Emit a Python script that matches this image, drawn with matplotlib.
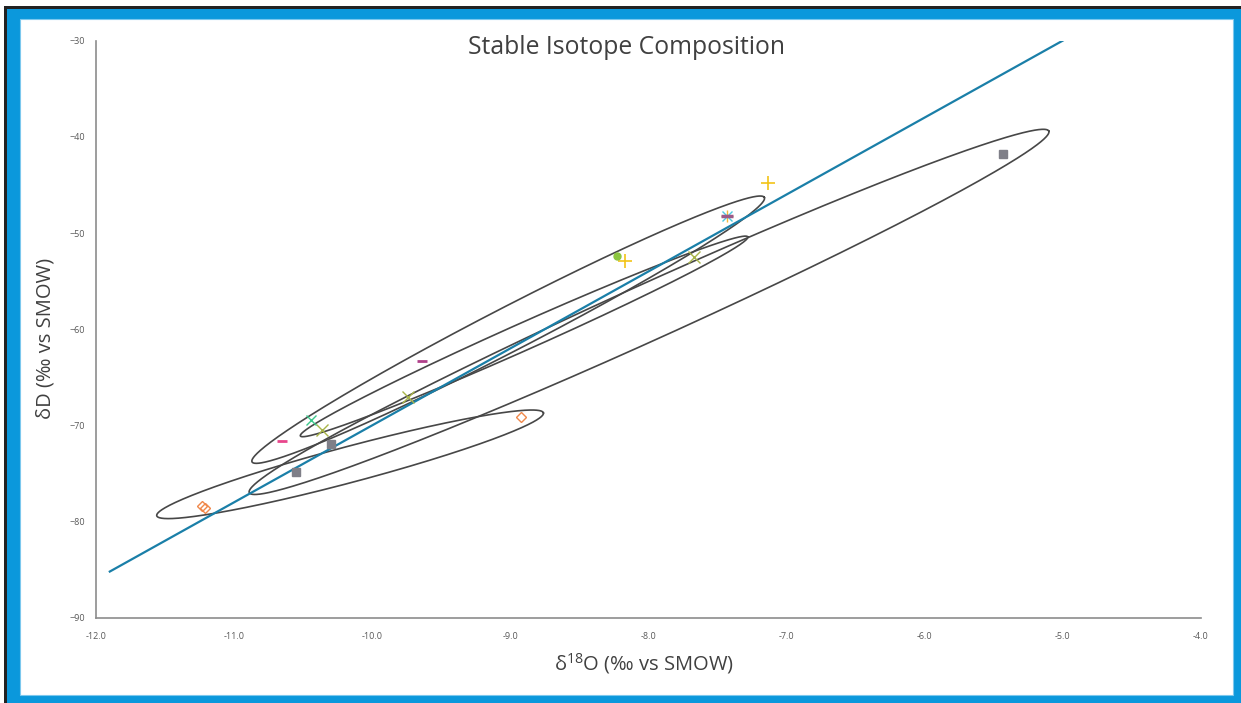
import numpy as np
import matplotlib
matplotlib.use('Agg')
import matplotlib.pyplot as plt
from matplotlib.patches import Rectangle

plt.rcParams['font.family'] = ['Open Sans', 'DejaVu Sans']
plt.rcParams['mathtext.fontset'] = 'custom'
plt.rcParams['mathtext.rm'] = 'Open Sans'

# Valores (δ18O, δD)
quadrado_x = [-5.43, -10.30, -10.55]
quadrado_y = [-41.8, -71.9, -74.9]

losango_x = [-11.23, -11.21, -8.92]
losango_y = [-78.4, -78.6, -69.1]

mais_x = [-7.13, -8.17]
mais_y = [-44.8, -52.9]

ponto_x = [-8.23]
ponto_y = [-52.4]

xis_oliva_x = [-7.67, -10.36, -9.74]
xis_oliva_y = [-52.5, -70.5, -67.1]

xis_verde_x = [-10.44]
xis_verde_y = [-69.4]

traco_x = [-10.65, -9.64]
traco_y = [-71.6, -63.3]
traco_cores = ['#e8468c', '#b0408a']

estrela_x = [-7.43]
estrela_y = [-48.2]

# Reta meteórica global: δD = 8 δ18O + 10
reta_x = [-11.9, -5.0]
reta_inclinacao = 8
reta_intercepto = 10

# Elipses: extremidades (δ18O, δD) e meia-largura em unidades de δ18O
elipse_p1 = [(-10.89, -77.0), (-11.56, -79.4), (-10.87, -73.8), (-10.52, -71.1)]
elipse_p2 = [(-5.10, -39.4), (-8.76, -68.7), (-7.16, -46.3), (-7.28, -50.4)]
elipse_b = [0.203, 0.130, 0.159, 0.098]

xmin, xmax = -12, -4
ymin, ymax = -90, -30

W, H = 1241, 703
fig = plt.figure(figsize=(W / 100, H / 100), dpi=100)

# Moldura: sombra preta, borda azul, fundo branco
fig.patches.append(Rectangle((4 / W, 0), 1, 1 - 6 / H, transform=fig.transFigure,
                             facecolor='#222222', edgecolor='none', zorder=-3))
fig.patches.append(Rectangle((7 / W, 0), 1, 1 - 9 / H, transform=fig.transFigure,
                             facecolor='#0b98dc', edgecolor='none', zorder=-2))
fig.patches.append(Rectangle((20 / W, 8 / H), (1233 - 20) / W, (695 - 19) / H,
                             transform=fig.transFigure, facecolor='white',
                             edgecolor='#7cc8ee', linewidth=0.8, zorder=-1))

ax_l, ax_r, ax_t, ax_b = 96, 1200.7, 40.7, 617.7
ax = fig.add_axes([ax_l / W, 1 - ax_b / H, (ax_r - ax_l) / W, (ax_b - ax_t) / H])
ax.patch.set_alpha(0)

ax.set_xlim(xmin, xmax)
ax.set_ylim(ymin, ymax)
ax.set_xticks(np.arange(xmin, xmax + 1, 1))
ax.set_xticklabels([f'{v:.1f}' for v in np.arange(xmin, xmax + 1, 1)])
ax.set_yticks(np.arange(ymin, ymax + 1, 10))
ax.tick_params(length=0, labelsize=6.5, labelcolor='#595959')
ax.tick_params(axis='x', pad=10)
ax.tick_params(axis='y', pad=8)
for lado in ['top', 'right']:
    ax.spines[lado].set_visible(False)
for lado in ['left', 'bottom']:
    ax.spines[lado].set_color('#8c8c8c')
    ax.spines[lado].set_linewidth(1.2)

# escala para elipses com pixels iguais nos dois eixos
ppx = (ax_r - ax_l) / (xmax - xmin)
ppy = (ax_b - ax_t) / (ymax - ymin)
k = ppy / ppx

t = np.linspace(0, 2 * np.pi, 600)
for p1, p2, b in zip(elipse_p1, elipse_p2, elipse_b):
    x1, y1 = p1[0], p1[1] * k
    x2, y2 = p2[0], p2[1] * k
    cx, cy = (x1 + x2) / 2, (y1 + y2) / 2
    a = np.hypot(x2 - x1, y2 - y1) / 2
    ang = np.arctan2(y2 - y1, x2 - x1)
    ex = cx + a * np.cos(t) * np.cos(ang) - b * np.sin(t) * np.sin(ang)
    ey = cy + a * np.cos(t) * np.sin(ang) + b * np.sin(t) * np.cos(ang)
    ax.plot(ex, ey / k, color='#474747', lw=1.2, zorder=2)

rx = np.array(reta_x)
ax.plot(rx, reta_inclinacao * rx + reta_intercepto, color='#1a7fa8', lw=1.6, zorder=3)

ax.plot(quadrado_x, quadrado_y, 's', color='#7f7f88', ms=5.5, zorder=4)
ax.plot(losango_x, losango_y, 'D', mfc='none', mec='#f0884a', mew=1, ms=5, zorder=4)
ax.plot(mais_x, mais_y, '+', color='#f2c418', ms=10, mew=1.2, zorder=4)
ax.plot(ponto_x, ponto_y, 'o', color='#8cc63f', ms=5, zorder=4)
ax.plot(xis_oliva_x, xis_oliva_y, 'x', color='#a8b448', ms=8, mew=1, zorder=4)
ax.plot(xis_verde_x, xis_verde_y, 'x', color='#3cc88c', ms=7, mew=1, zorder=4)
for x, y, c in zip(traco_x, traco_y, traco_cores):
    ax.plot(x, y, '_', color=c, ms=7, mew=2, zorder=4)
ax.plot(estrela_x, estrela_y, '+', color='#f2b83c', ms=8, mew=1, zorder=4)
ax.plot(estrela_x, estrela_y, 'x', color='#4cc9e0', ms=7, mew=1, zorder=4)
ax.plot(estrela_x, estrela_y, '_', color='#9b5a8a', ms=8, mew=2.5, zorder=5)

fig.text(626 / W, 1 - 48 / H, 'Stable Isotope Composition', ha='center', va='center',
         fontsize=17.8, color='#404040')
fig.text(644 / W, 1 - 664 / H, r'δ$^{18}$O (‰ vs SMOW)', ha='center', va='center',
         fontsize=14.5, color='#404040')
fig.text(46 / W, 1 - 338 / H, 'δD (‰ vs SMOW)', ha='center', va='center',
         rotation=90, fontsize=14.5, color='#404040')

fig.savefig('out.png', dpi=100)
